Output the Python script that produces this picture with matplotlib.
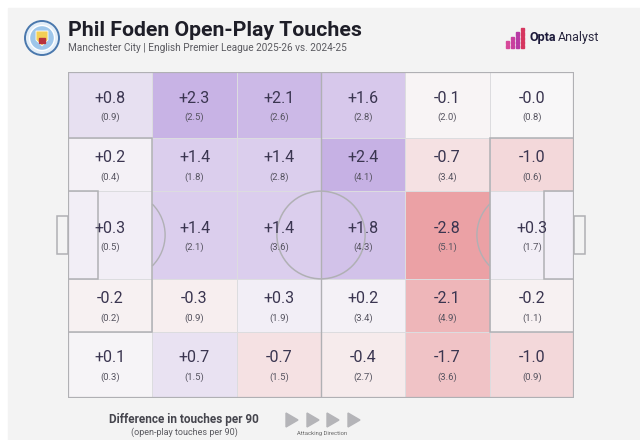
import numpy as np
import matplotlib.pyplot as plt
from matplotlib.patches import Rectangle, Circle, Arc, Polygon
from matplotlib.colors import LinearSegmentedColormap

plt.rcParams['font.family'] = ['Roboto', 'DejaVu Sans']

# touches per 90: 2025-26 minus 2024-25 (rows top to bottom, cols left to right)
diff = [
    [0.8, 2.3, 2.1, 1.6, -0.1, -0.0],
    [0.2, 1.4, 1.4, 2.4, -0.7, -1.0],
    [0.3, 1.4, 1.4, 1.8, -2.8, 0.3],
    [-0.2, -0.3, 0.3, 0.2, -2.1, -0.2],
    [0.1, 0.7, -0.7, -0.4, -1.7, -1.0],
]
# 2025-26 open-play touches per 90
current = [
    [0.9, 2.5, 2.6, 2.8, 2.0, 0.8],
    [0.4, 1.8, 2.8, 4.1, 3.4, 0.6],
    [0.5, 2.1, 3.6, 4.3, 5.1, 1.7],
    [0.2, 0.9, 1.9, 3.4, 4.9, 1.1],
    [0.3, 1.5, 1.5, 2.7, 3.6, 0.9],
]

title = "Phil Foden Open-Play Touches"
subtitle = "Manchester City | English Premier League 2025-26 vs. 2024-25"

# pitch zones (metres)
L, W = 105, 68
col_edges = np.linspace(0, L, 7)
row_edges = [0, 13.84, 24.84, 43.16, 54.16, 68]  # bottom -> top

cmap = LinearSegmentedColormap.from_list(
    "opta", ["#eba1a5", "#f8f7f8", "#bea5e1"])

fig = plt.figure(figsize=(6.4, 4.4), dpi=100)
fig.patch.set_facecolor("white")

# background / decoration axes in pixel coords
bg = fig.add_axes([0, 0, 1, 1])
bg.set_xlim(0, 640)
bg.set_ylim(440, 0)
bg.axis("off")
bg.add_patch(Rectangle((8, 8), 640, 440, color="#f3f3f3", zorder=0))

# club badge (simple)
bg.add_patch(Circle((42, 38), 17, facecolor="#e3eef8", edgecolor="#4a78ad", lw=1.4))
bg.add_patch(Circle((42, 38), 12.5, facecolor="#9ec6ea", edgecolor="#ffffff", lw=1))
bg.add_patch(Polygon([[36, 31], [48, 31], [48, 40], [42, 46], [36, 40]],
                     facecolor="#f3cf55", edgecolor="white", lw=0.6))
bg.add_patch(Rectangle((39, 38), 6, 5, color="#b8323c"))

bg.text(68, 30, title, fontsize=15.3, fontweight="bold", color="#1e1e28",
        ha="left", va="center")
bg.text(68, 48, subtitle, fontsize=7.2, color="#5a5a60", ha="left", va="center")

# Opta Analyst logo
logo_cols = [(506, 2, "#d7489a"), (511, 3, "#c9409e"), (516, 4, "#b83aa5"),
             (521, 5, "#d6365f")]
for x0, n, c in logo_cols:
    for k in range(n):
        bg.add_patch(Rectangle((x0, 45 - 4.2 * k), 3.2, 3.2, color=c))
bg.text(530, 38, "Opta", fontsize=9, fontweight="bold", color="#1c1a3a",
        ha="left", va="center")
bg.text(558, 38, "Analyst", fontsize=9, color="#2a2840",
        ha="left", va="center")

# footer
bg.text(184, 419, "Difference in touches per 90", fontsize=8.5,
        fontweight="bold", color="#45454d", ha="center", va="center")
bg.text(184, 432, "(open-play touches per 90)", fontsize=6.5,
        color="#5a5a60", ha="center", va="center")
for xa in [286, 307, 327, 348]:
    bg.add_patch(Polygon([[xa, 413], [xa, 427], [xa + 12, 420]],
                         color="#b4b4b8"))
bg.text(322, 434, "Attacking Direction", fontsize=4.2, color="#666",
        ha="center", va="center")

# pitch axes
ax = fig.add_axes([68 / 640, 42 / 440, 506 / 640, 326 / 440])
ax.set_xlim(0, L)
ax.set_ylim(0, W)
ax.axis("off")

vals = np.array(diff)[::-1]
ax.pcolormesh(col_edges, row_edges, vals, cmap=cmap, vmin=-2.8, vmax=2.8,
              edgecolors="#dcdcdf", linewidth=0.5, zorder=1)

line_kw = dict(color="#b0b0b4", lw=1.1, fill=False, zorder=3)
ax.add_patch(Rectangle((0, 0), L, W, color="#b0b0b4", lw=1.6, fill=False,
                       zorder=3))
ax.plot([L / 2, L / 2], [0, W], color="#b0b0b4", lw=1.0, zorder=3)
ax.add_patch(Circle((L / 2, W / 2), 9.15, **line_kw))
for side in [0, 1]:
    x_box = 0 if side == 0 else L - 17.5
    ax.add_patch(Rectangle((x_box, 13.84), 17.5, 40.32, **line_kw))
    x_ga = 0 if side == 0 else L - 6.2
    ax.add_patch(Rectangle((x_ga, 24.84), 6.2, 18.32, **line_kw))
    x_g = -2.2 if side == 0 else L
    gl = Rectangle((x_g, 34 - 3.9), 2.2, 7.8, **line_kw)
    gl.set_clip_on(False)
    ax.add_patch(gl)
ax.add_patch(Arc((11, 34), 18.3, 18.3, theta1=-45, theta2=45,
                 color="#b0b0b4", lw=1.0, zorder=3))
ax.add_patch(Arc((L - 11, 34), 18.3, 18.3, theta1=135, theta2=225,
                 color="#b0b0b4", lw=1.0, zorder=3))

for i in range(5):
    yc = (row_edges[4 - i] + row_edges[5 - i]) / 2
    for j in range(6):
        xc = (col_edges[j] + col_edges[j + 1]) / 2
        ax.annotate(f"{diff[i][j]:+.1f}", (xc, yc), xytext=(0, 5),
                    textcoords="offset points", ha="center", va="center",
                    fontsize=11.5, color="#3a3550", zorder=4)
        ax.annotate(f"({current[i][j]:.1f})", (xc, yc), xytext=(0, -9),
                    textcoords="offset points", ha="center", va="center",
                    fontsize=6.8, color="#55535f", zorder=4)

fig.savefig("out.png", dpi=100)
